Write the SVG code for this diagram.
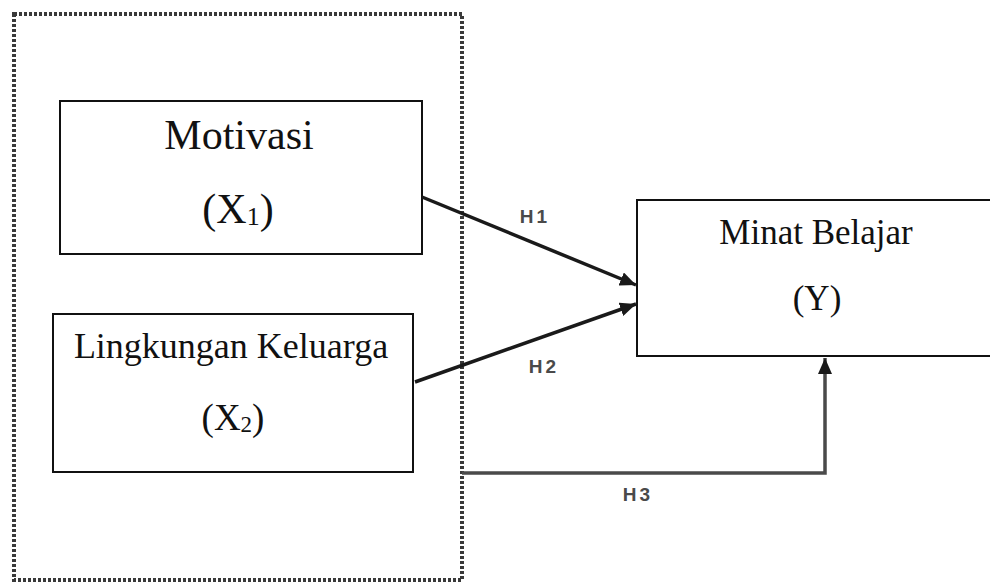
<svg xmlns="http://www.w3.org/2000/svg" width="990" height="584" viewBox="0 0 990 584">
<style>
.box{fill:#fff;stroke:#111;stroke-width:2}
.t{font-family:"Liberation Serif","Times New Roman",serif;fill:#111;text-anchor:middle}
.lbl{font-family:"Liberation Sans",Arial,sans-serif;font-weight:bold;font-size:19px;fill:#4a4a4a;text-anchor:middle;letter-spacing:3px}
.ar{fill:none;stroke:#1a1a1a;stroke-width:3.5}
.ar3{fill:none;stroke:#4a4a4a;stroke-width:3.5}
</style>
<defs>
<marker id="ah" markerUnits="userSpaceOnUse" markerWidth="18" markerHeight="14" refX="16" refY="7" orient="auto">
<path d="M0,0 L16,7 L0,14 Z" fill="#1a1a1a"/>
</marker>
</defs>
<rect id="group" x="14" y="14" width="448" height="566" fill="none" stroke="#3a3a3a" stroke-width="4" stroke-dasharray="3 2"/>
<g id="n1">
<rect class="box" x="60" y="101" width="362" height="153"/>
<text class="t" x="239" y="149" font-size="42">Motivasi</text>
<text class="t" x="238" y="223" font-size="42">(X<tspan font-size="26" dy="2">1</tspan><tspan dy="-2">)</tspan></text>
</g>
<g id="n2">
<rect class="box" x="53" y="314" width="360" height="158"/>
<text class="t" x="231" y="358" font-size="36">Lingkungan Keluarga</text>
<text class="t" x="233" y="430" font-size="37">(X<tspan font-size="23" dy="2">2</tspan><tspan dy="-2">)</tspan></text>
</g>
<g id="n3">
<rect class="box" x="637" y="200" width="360" height="156"/>
<text class="t" x="816" y="244" font-size="35">Minat Belajar</text>
<text class="t" x="817" y="310" font-size="35">(Y)</text>
</g>
<g id="connectors">
<line class="ar" x1="422" y1="197" x2="636" y2="285" marker-end="url(#ah)"/>
<line class="ar" x1="415" y1="382" x2="636" y2="304" marker-end="url(#ah)"/>
<path class="ar3" d="M462,473 L825,473 L825,358" marker-end="url(#ah)"/>
<text class="lbl" x="535" y="223">H1</text>
<text class="lbl" x="544" y="373">H2</text>
<text class="lbl" x="638" y="501">H3</text>
</g>
</svg>
